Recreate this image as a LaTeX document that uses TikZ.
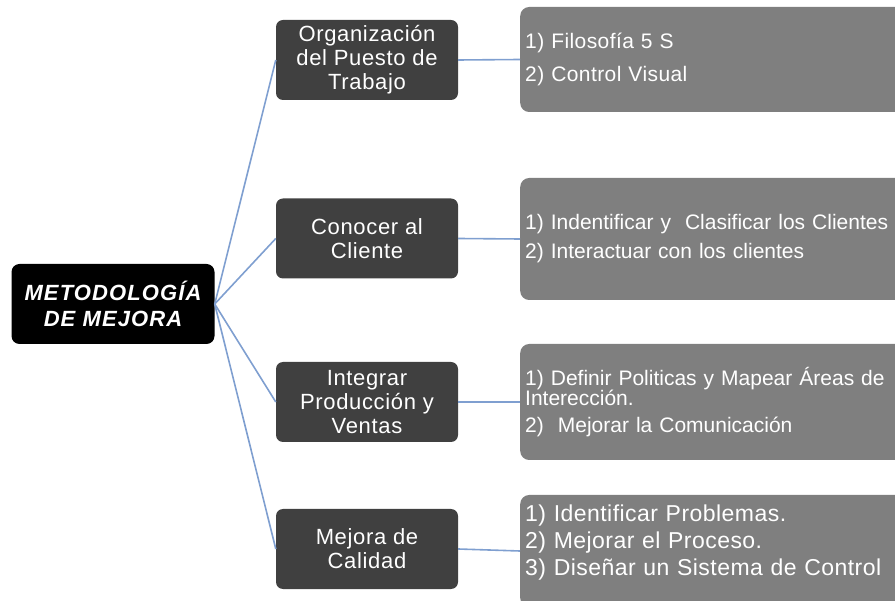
\documentclass[tikz,border=0pt]{standalone}
\usepackage{fontspec}
\setmainfont{Liberation Sans}
\newfontfamily\rootfont[LetterSpace=5]{Liberation Sans}
\newfontfamily\topicfont[LetterSpace=3]{Liberation Sans}
\newfontfamily\itemfont[LetterSpace=2]{Liberation Sans}
\newfontfamily\tightfont{Liberation Sans}
\definecolor{topicgray}{HTML}{404040}
\definecolor{itemgray}{HTML}{7F7F7F}
\definecolor{linkblue}{HTML}{7F9FD0}

\begin{document}
\begin{tikzpicture}[x=1pt, y=-1pt]
	\tikzstyle{root} = [ fill=black, rounded corners=8pt, minimum width=203pt, minimum height=80pt, inner sep=0pt, text=white, align=center, font={\rootfont\bfseries\itshape\fontsize{22}{26}\selectfont} ];
	\tikzstyle{topic} = [ fill=topicgray, rounded corners=7pt, minimum width=182pt, minimum height=80pt, inner sep=0pt, text=white, align=center, font={\topicfont\fontsize{22}{24}\selectfont} ];
	\tikzstyle{item} = [ fill=itemgray, rounded corners=9pt, anchor=west, inner xsep=5pt, text width=390pt, text=white, align=left ];
	\tikzstyle{link} = [ draw=linkblue, line width=1.6pt ];

	\useasboundingbox (0,0) rectangle (895,601);
	\clip (0,0) rectangle (895,601);

	\node[root] (mejora) at (113,304) {METODOLOGÍA\\DE MEJORA};

	\foreach \yi/\tn/\txt in {60/puesto/{Organización\\del Puesto de\\Trabajo}, 238.5/cliente/{Conocer al\\Cliente}, 402/ventas/{Integrar\\Producción y\\Ventas}, 549/calidad/{Mejora de\\Calidad}} {
		\node[topic] (\tn) at (367,\yi) {\txt};
		\draw[link] (mejora.east) to (\tn.west);
	}

	\node[item, minimum height=105pt, font={\itemfont\fontsize{21}{33}\selectfont}] (puesto-i) at (520,59.5)
		{1) Filosofía 5 S\\2) Control Visual};
	\node[item, minimum height=122pt, font={\tightfont\fontsize{21}{29}\selectfont}] (cliente-i) at (520,239)
		{1) Indentificar y \ Clasificar los Clientes\\2) Interactuar con los clientes};
	\node[item, minimum height=116pt, font={\tightfont\fontsize{21}{17}\selectfont}] (ventas-i) at (520,402)
		{1) Definir Politicas y Mapear Áreas de\\Interección.\\[10pt]2) \ Mejorar la Comunicación};
	\node[item, minimum height=112pt, font={\itemfont\fontsize{23}{27}\selectfont}] (calidad-i) at (520,551)
		{1) Identificar Problemas.\\2) Mejorar el Proceso.\\3) Diseñar un Sistema de Control\\[-5pt]\mbox{}};

	\foreach \tn in {puesto, cliente, ventas, calidad} {
		\draw[link] (\tn.east) to (\tn-i.west);
	}
\end{tikzpicture}
\end{document}
